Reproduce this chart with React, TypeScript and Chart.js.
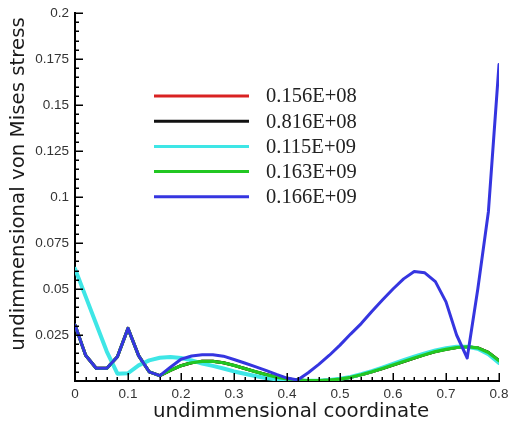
import React, { useEffect, useRef } from 'react';
import { Chart, registerables } from 'chart.js';

Chart.register(...registerables);

// ---- data ----
const xCoords = [
  0, 0.02, 0.04, 0.06, 0.08, 0.1, 0.12, 0.14, 0.16, 0.18,
  0.2, 0.22, 0.24, 0.26, 0.28, 0.3, 0.32, 0.34, 0.36, 0.38,
  0.4, 0.42, 0.44, 0.46, 0.48, 0.5, 0.52, 0.54, 0.56, 0.58,
  0.6, 0.62, 0.64, 0.66, 0.68, 0.7, 0.72, 0.74, 0.76, 0.78, 0.8,
];

const seriesLabels = ['0.156E+08', '0.816E+08', '0.115E+09', '0.163E+09', '0.166E+09'];

const stressRed = [
  0.0304, 0.0140, 0.0069, 0.0069, 0.0132, 0.0286, 0.0138, 0.0050, 0.0029, 0.0058,
  0.0083, 0.0099, 0.0107, 0.0107, 0.0099, 0.0085, 0.0068, 0.0051, 0.0035, 0.0021,
  0.0011, 0.0005, 0.0002, 0.0002, 0.0005, 0.0010, 0.0020, 0.0034, 0.0050, 0.0068,
  0.0087, 0.0106, 0.0125, 0.0143, 0.0160, 0.0172, 0.0182, 0.0186, 0.0180, 0.0155, 0.0110,
];
const stressBlack = [
  0.0304, 0.0140, 0.0069, 0.0069, 0.0132, 0.0286, 0.0138, 0.0050, 0.0029, 0.0058,
  0.0083, 0.0099, 0.0107, 0.0107, 0.0099, 0.0085, 0.0068, 0.0051, 0.0035, 0.0021,
  0.0011, 0.0005, 0.0002, 0.0002, 0.0005, 0.0010, 0.0020, 0.0034, 0.0050, 0.0068,
  0.0087, 0.0106, 0.0125, 0.0143, 0.0160, 0.0172, 0.0182, 0.0186, 0.0180, 0.0155, 0.0110,
];
const stressCyan = [
  0.0610, 0.0460, 0.0310, 0.0160, 0.0040, 0.0042, 0.0085, 0.0112, 0.0126, 0.0130,
  0.0125, 0.0112, 0.0095, 0.0082, 0.0068, 0.0052, 0.0039, 0.0027, 0.0016, 0.0009,
  0.0004, 0.0002, 0.0001, 0.0002, 0.0005, 0.0012, 0.0022, 0.0037, 0.0054, 0.0073,
  0.0093, 0.0113, 0.0132, 0.0150, 0.0166, 0.0178, 0.0186, 0.0186, 0.0175, 0.0145, 0.0098,
];
const stressGreen = [
  0.0304, 0.0140, 0.0069, 0.0069, 0.0132, 0.0286, 0.0138, 0.0050, 0.0029, 0.0058,
  0.0083, 0.0099, 0.0107, 0.0107, 0.0099, 0.0085, 0.0068, 0.0051, 0.0035, 0.0021,
  0.0011, 0.0005, 0.0002, 0.0002, 0.0005, 0.0010, 0.0020, 0.0034, 0.0050, 0.0068,
  0.0087, 0.0106, 0.0125, 0.0143, 0.0160, 0.0172, 0.0182, 0.0186, 0.0180, 0.0155, 0.0110,
];
const stressBlue = [
  0.0304, 0.0140, 0.0069, 0.0069, 0.0132, 0.0286, 0.0138, 0.0050, 0.0029, 0.0075,
  0.0118, 0.0136, 0.0143, 0.0143, 0.0135, 0.0117, 0.0098, 0.0078, 0.0058, 0.0036,
  0.0016, 0.0005, 0.0045, 0.0090, 0.0140, 0.0195, 0.0255, 0.0312, 0.0378, 0.0440,
  0.0500, 0.0555, 0.0595, 0.0588, 0.0540, 0.0430, 0.0250, 0.0125, 0.0500, 0.0920, 0.1720,
];

const xAxisTitle = 'undimmensional coordinate';
const yAxisTitle = 'undimmensional von Mises stress';

const fmt = (v: number) => String(Number(Number(v).toFixed(3)));

const insideTicks = {
  id: 'insideTicks',
  afterDraw(chart: any) {
    const { ctx, chartArea, scales } = chart;
    const xs = scales.x;
    const ys = scales.y;
    ctx.save();
    ctx.strokeStyle = '#000';
    ctx.lineWidth = 1.5;
    ctx.beginPath();
    for (let i = 0; i <= 40; i++) {
      const px = Math.round(xs.getPixelForValue(i * 0.02)) + 0.25;
      const len = i % 5 === 0 ? 8 : 4;
      ctx.moveTo(px, chartArea.bottom);
      ctx.lineTo(px, chartArea.bottom - len);
    }
    for (let i = 0; i <= 40; i++) {
      const py = Math.round(ys.getPixelForValue(i * 0.005)) + 0.25;
      const len = i % 5 === 0 ? 8 : 4;
      ctx.moveTo(chartArea.left, py);
      ctx.lineTo(chartArea.left + len, py);
    }
    ctx.stroke();
    ctx.restore();
  },
};

const titlesAndLegend = {
  id: 'titlesAndLegend',
  afterDraw(chart: any) {
    const { ctx, chartArea } = chart;
    ctx.save();
    // axis titles
    ctx.fillStyle = '#1a1a1a';
    ctx.font = '19.8px "DejaVu Sans"';
    ctx.textAlign = 'center';
    ctx.textBaseline = 'middle';
    ctx.fillText(xAxisTitle, (chartArea.left + chartArea.right) / 2 + 4, 411.5);
    ctx.save();
    ctx.translate(19, 184);
    ctx.rotate(-Math.PI / 2);
    ctx.fillText(yAxisTitle, 0, 0);
    ctx.restore();
    // legend
    const ds = chart.data.datasets;
    ctx.font = '20.5px "Liberation Serif"';
    ctx.textAlign = 'left';
    ctx.textBaseline = 'middle';
    for (let i = 0; i < ds.length; i++) {
      const y = 96 + i * 25.2;
      ctx.strokeStyle = ds[i].borderColor;
      ctx.lineWidth = 3;
      ctx.beginPath();
      ctx.moveTo(154, y);
      ctx.lineTo(249, y);
      ctx.stroke();
      ctx.fillStyle = '#222';
      ctx.fillText(ds[i].label, 266, y + 1);
    }
    ctx.restore();
  },
};

export default function App() {
  const canvasRef = useRef<HTMLCanvasElement | null>(null);

  useEffect(() => {
    if (!canvasRef.current) return;
    const mk = (arr: number[]) => xCoords.map((x, i) => ({ x, y: arr[i] }));
    const chart = new Chart(canvasRef.current, {
      type: 'line',
      data: {
        datasets: [
          { label: seriesLabels[0], data: mk(stressRed), borderColor: '#d92222', borderWidth: 3, order: 4 },
          { label: seriesLabels[1], data: mk(stressBlack), borderColor: '#111111', borderWidth: 3, order: 3 },
          { label: seriesLabels[2], data: mk(stressCyan), borderColor: '#3ee6e6', borderWidth: 4, order: 2 },
          { label: seriesLabels[3], data: mk(stressGreen), borderColor: '#22c722', borderWidth: 3.2, order: 1 },
          { label: seriesLabels[4], data: mk(stressBlue), borderColor: '#3535e0', borderWidth: 3, order: 0 },
        ],
      },
      options: {
        responsive: true,
        maintainAspectRatio: false,
        animation: false,
        layout: { padding: { top: 13, right: 10, left: 0, bottom: 0 } },
        elements: { point: { radius: 0 }, line: { tension: 0, borderJoinStyle: 'round', borderCapStyle: 'round' } },
        plugins: { legend: { display: false }, tooltip: { enabled: false } },
        scales: {
          x: {
            type: 'linear',
            min: 0,
            max: 0.8,
            grid: { display: false, drawTicks: false },
            border: { display: true, color: '#000', width: 2 },
            ticks: {
              stepSize: 0.1,
              padding: 5,
              color: '#333',
              font: { family: 'Liberation Sans', size: 13.5 },
              callback: (v: any) => fmt(v),
            },
            afterFit: (s: any) => { s.height = 44; s.paddingLeft = 0; s.paddingRight = 0; },
          },
          y: {
            type: 'linear',
            min: 0,
            max: 0.2,
            grid: { display: false, drawTicks: false },
            border: { display: true, color: '#000', width: 2 },
            ticks: {
              stepSize: 0.025,
              padding: 6,
              color: '#333',
              font: { family: 'Liberation Sans', size: 13.5 },
              callback: (v: any) => (Number(v) === 0 ? '' : fmt(v)),
            },
            afterFit: (s: any) => { s.width = 75; s.paddingTop = 0; s.paddingBottom = 0; },
          },
        },
      },
      plugins: [insideTicks, titlesAndLegend],
    });
    return () => chart.destroy();
  }, []);

  return (
    <div style={{ position: 'fixed', left: 0, top: 0, width: 509, height: 425, background: '#fff' }}>
      <canvas ref={canvasRef} />
    </div>
  );
}
